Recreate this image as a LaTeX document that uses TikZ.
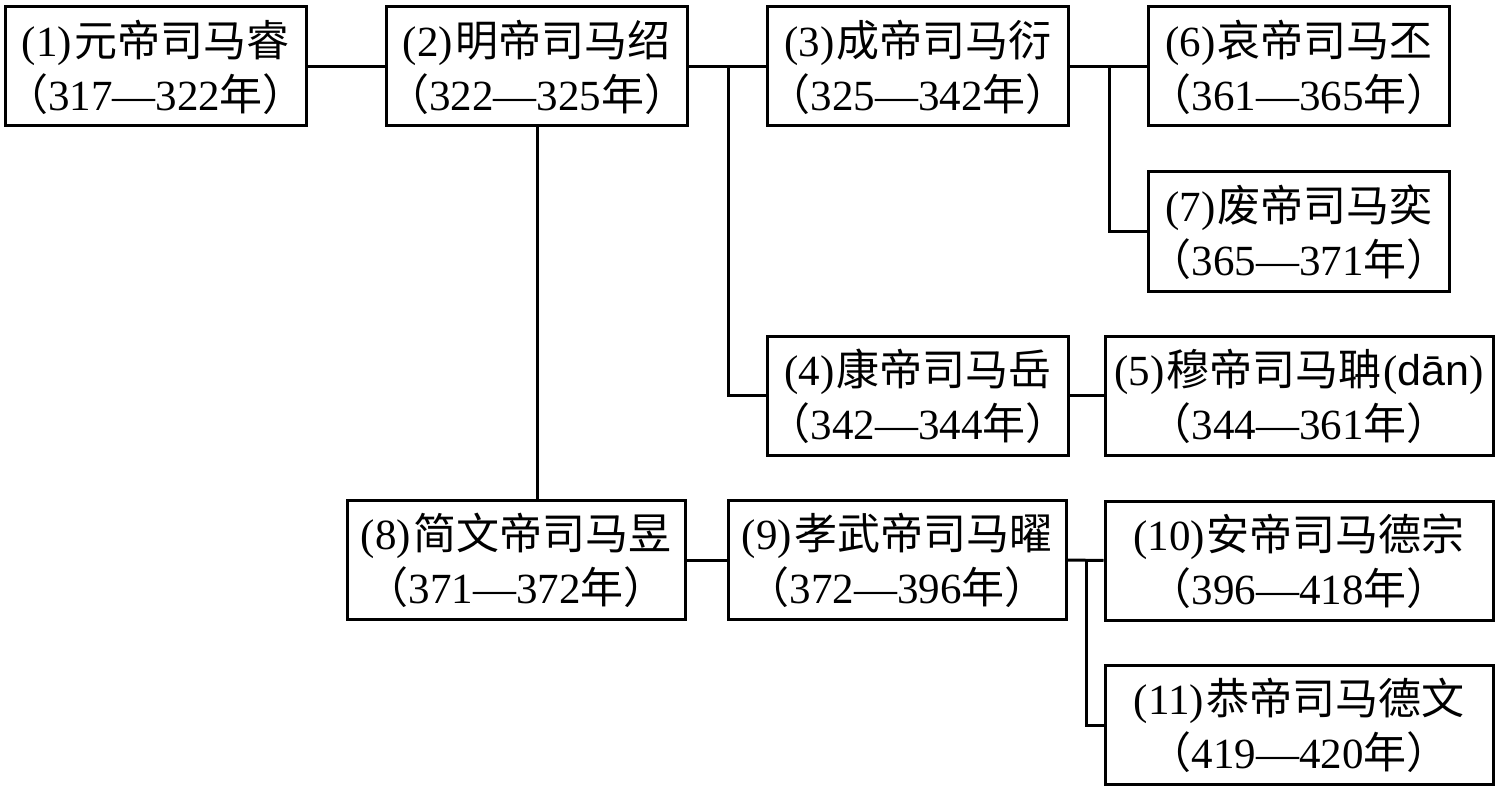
\documentclass[tikz,border=0pt]{standalone}
\usepackage{fontspec}
\setmainfont{Liberation Serif}
\newfontfamily\cjkfont{Noto Sans CJK SC}
\newfontfamily\latsans{Liberation Sans}
\newcommand\zh[1]{{\cjkfont #1}}
\newcommand\twolines[2]{\raisebox{-3pt}[\height][\depth]{\begin{tabular}{@{}c@{}}#1\\#2\end{tabular}}}
\begin{document}
\begin{tikzpicture}[x=0.5pt,y=-0.5pt,
  line width=1.5pt,
  box/.style={draw, rectangle, inner sep=0pt, minimum height=59.5pt,
    font=\fontsize{21.5pt}{27pt}\selectfont},
  link/.style={draw, line width=1.5pt}]
\useasboundingbox (0,0) rectangle (1500,792);
\node[box, minimum width=148.5pt] (b1) at (155.5,66.5) {\twolines{(1)\kern1pt\zh{元帝司马睿}}{\zh{（}317—322\zh{年）}}};
\node[box, minimum width=148.5pt] (b2) at (536.5,66.5) {\twolines{(2)\kern1pt\zh{明帝司马绍}}{\zh{（}322—325\zh{年）}}};
\node[box, minimum width=148pt] (b3) at (918,66.5) {\twolines{(3)\kern1pt\zh{成帝司马衍}}{\zh{（}325—342\zh{年）}}};
\node[box, minimum width=148pt] (b6) at (1299,66.5) {\twolines{(6)\kern1pt\zh{哀帝司马丕}}{\zh{（}361—365\zh{年）}}};
\node[box, minimum width=148pt] (b7) at (1299,231.5) {\twolines{(7)\kern1pt\zh{废帝司马奕}}{\zh{（}365—371\zh{年）}}};
\node[box, minimum width=149pt] (b4) at (918,395.5) {\twolines{(4)\kern1pt\zh{康帝司马岳}}{\zh{（}342—344\zh{年）}}};
\node[box, minimum width=194pt] (b5) at (1299,395.5) {\twolines{(5)\kern1pt\zh{穆帝司马聃}\kern1pt({\latsans dān})}{\zh{（}344—361\zh{年）}}};
\node[box, minimum width=169pt] (b8) at (516,560) {\twolines{(8)\kern1pt\zh{简文帝司马昱}}{\zh{（}371—372\zh{年）}}};
\node[box, minimum width=169pt] (b9) at (897,560) {\twolines{(9)\kern1pt\zh{孝武帝司马曜}}{\zh{（}372—396\zh{年）}}};
\node[box, minimum width=194pt] (b10) at (1299,560.5) {\twolines{(10)\kern1pt\zh{安帝司马德宗}}{\zh{（}396—418\zh{年）}}};
\node[box, minimum width=194pt] (b11) at (1299,725) {\twolines{(11)\kern1pt\zh{恭帝司马德文}}{\zh{（}419—420\zh{年）}}};
\coordinate (j1) at (728,66.5);
\coordinate (j2) at (1109,66.5);
\coordinate (j3) at (1086,560);
\coordinate (j4) at (537,126);
\draw[link] (b1.east) -- (b2.west);
\draw[link] (b2.east) -- (b3.west);
\draw[link] (j1) |- (b4.west);
\draw[link] (b3.east) -- (b6.west);
\draw[link] (j2) |- (b7.west);
\draw[link] (j4) -- (j4 |- b8.north);
\draw[link] (b4.east) -- (b5.west);
\draw[link] (b8.east) -- (b9.west);
\draw[link] (b9.east) -- (b10.west);
\draw[link] (j3) |- (b11.west);
\end{tikzpicture}
\end{document}
